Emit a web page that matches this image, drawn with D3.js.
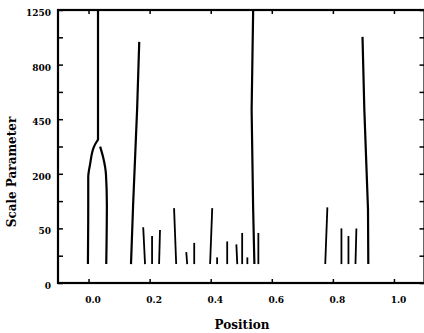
<!DOCTYPE html>
<html><head><meta charset="utf-8">
<script src="https://cdn.jsdelivr.net/npm/d3@7"></script>
<style>
html,body{margin:0;padding:0;background:#fff;}
svg{display:block;}
text{font-family:"DejaVu Serif",serif;font-weight:bold;fill:#000;}
</style></head>
<body>
<svg id="chart" width="424" height="333"></svg>
<script>
// ---- data ----
const xTicks = [0, 0.2, 0.4, 0.6, 0.8, 1.0];
const xTickLabels = ["0.0", "0.2", "0.4", "0.6", "0.8", "1.0"];
const yTicks = [0, 50, 200, 450, 800, 1250];
const yMinorTicks = [12.5, 112.5, 312.5, 612.5, 1012.5];
const baseScale = 6;

// long ridge lines: [position, scale]
const ridgeStemLeft = [[0.031,1250],[0.031,345],[0.027,336],[0.018,312],[0.005,236],[-0.001,187],[-0.001,104],[-0.002,6]];
const ridgeRightBranch = [[0.038,312],[0.048,264],[0.057,198],[0.060,104],[0.058,6]];
const ridge015 = [[0.166,975],[0.159,504],[0.146,104],[0.139,6]];
const ridge054 = [[0.539,1250],[0.534,504],[0.539,91],[0.543,6]];
const ridge090 = [[0.897,1016],[0.903,504],[0.915,91],[0.916,6]];
const curvedRidges = [ridgeStemLeft, ridgeRightBranch];
const straightRidges = [ridge015, ridge054, ridge090];

// short ridges: bottom position, top position, top scale
const shortBottomPos = [0.185,0.208,0.231,0.287,0.323,0.346,0.398,0.421,0.454,0.487,0.503,0.520,0.556,0.775,0.828,0.851,0.874];
const shortTopPos    = [0.179,0.208,0.234,0.280,0.320,0.346,0.405,0.421,0.454,0.484,0.503,0.520,0.556,0.782,0.828,0.851,0.877];
const shortTopScale  = [52,37,47,94,16,27,94,11,29,25,42,11,42,96,50,37,50];

// ---- layout ----
const svg = d3.select("#chart");
const mLeft = 58, mTop = 10, mBottom = 283;
const x = d3.scaleLinear().domain([-0.1, 1.1]).range([mLeft, 424.5]);
const y = d3.scaleSqrt().domain([0, 1250]).range([mBottom, mTop]);
const mRight = x(1.1);

// ridges
const curved = d3.line().x(d => x(d[0])).y(d => y(d[1])).curve(d3.curveMonotoneY);
const straight = d3.line().x(d => x(d[0])).y(d => y(d[1]));
svg.append("g").selectAll("path").data(curvedRidges).join("path")
  .attr("d", curved).attr("fill","none").attr("stroke","#000").attr("stroke-width",2.2);
svg.append("g").selectAll("path").data(straightRidges).join("path")
  .attr("d", straight).attr("fill","none").attr("stroke","#000").attr("stroke-width",2.2)
  .attr("stroke-linejoin","round");

const shorts = shortBottomPos.map((p,i) => [[p, baseScale],[shortTopPos[i], shortTopScale[i]]]);
svg.append("g").selectAll("path").data(shorts).join("path")
  .attr("d", straight)
  .attr("fill","none").attr("stroke","#000").attr("stroke-width",1.8);

// axes
const axL = svg.append("g").attr("transform",`translate(${mLeft},0)`)
  .call(d3.axisLeft(y).tickValues(yTicks).tickSize(-5).tickPadding(7).tickFormat(d3.format("d")));
const axLm = svg.append("g").attr("transform",`translate(${mLeft},0)`)
  .call(d3.axisLeft(y).tickValues(yMinorTicks).tickSize(-5).tickFormat(""));
const axR = svg.append("g").attr("transform",`translate(${mRight},0)`)
  .call(d3.axisRight(y).tickValues(yTicks.concat(yMinorTicks)).tickSize(-5).tickFormat(""));
const axB = svg.append("g").attr("transform",`translate(0,${mBottom})`)
  .call(d3.axisBottom(x).tickValues(xTicks).tickSize(-4).tickPadding(14).tickFormat((d,i) => xTickLabels[i]));
const axT = svg.append("g").attr("transform",`translate(0,${mTop})`)
  .call(d3.axisTop(x).tickValues(xTicks).tickSize(-4).tickFormat(""));

[axL, axLm, axR, axB, axT].forEach(g => {
  g.select(".domain").remove();
  g.selectAll(".tick line").attr("stroke","#000").attr("stroke-width",1.5);
});
axL.selectAll(".tick text").attr("font-size",9).attr("font-family","DejaVu Serif").attr("font-weight","bold").attr("dy","0.6em");
axB.selectAll(".tick text").attr("font-size",9).attr("font-family","DejaVu Serif").attr("font-weight","bold").attr("dx",4);

// frame
svg.append("rect").attr("x",mLeft).attr("y",mTop).attr("width",mRight-mLeft).attr("height",mBottom-mTop)
  .attr("fill","none").attr("stroke","#000").attr("stroke-width",2.2);

// axis titles
svg.append("text").attr("x",242).attr("y",329).attr("text-anchor","middle").attr("font-size",12).text("Position");
svg.append("text").attr("transform","translate(16,172) rotate(-90)").attr("text-anchor","middle").attr("font-size",12).text("Scale Parameter");
</script>
</body></html>
